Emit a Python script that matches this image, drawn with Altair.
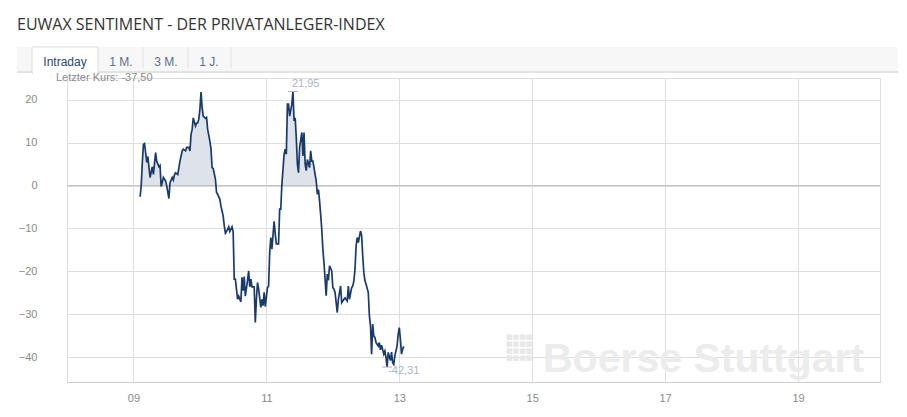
import altair as alt
import pandas as pd

# ---------------- data ----------------
times = [
    "09:06", "09:07", "09:08", "09:09", "09:10", "09:11", "09:12", "09:13", "09:14", "09:15",
    "09:17", "09:18", "09:20", "09:21", "09:23", "09:24", "09:25", "09:26", "09:27", "09:29",
    "09:30", "09:32", "09:33", "09:35", "09:36", "09:37", "09:38", "09:40", "09:42", "09:44",
    "09:45", "09:47", "09:48", "09:50", "09:51", "09:52", "09:53", "09:54", "09:56", "09:57",
    "09:58", "09:59", "10:00", "10:01", "10:02", "10:03", "10:05", "10:06", "10:07", "10:09",
    "10:10", "10:11", "10:12", "10:14", "10:15", "10:16", "10:18", "10:19", "10:21", "10:22",
    "10:23", "10:24", "10:26", "10:27", "10:29", "10:30", "10:31", "10:32", "10:34", "10:35",
    "10:37", "10:38", "10:39", "10:40", "10:41", "10:43", "10:44", "10:45", "10:46", "10:47",
    "10:49", "10:50", "10:51", "10:52", "10:53", "10:55", "10:56", "10:57", "10:58", "10:59",
    "11:01", "11:02", "11:03", "11:04", "11:05", "11:07", "11:08", "11:09", "11:11", "11:12",
    "11:13", "11:14", "11:16", "11:17", "11:18", "11:19", "11:20", "11:21", "11:23", "11:24",
    "11:25", "11:26", "11:27", "11:28", "11:29", "11:30", "11:32", "11:33", "11:34", "11:35",
    "11:36", "11:37", "11:39", "11:40", "11:41", "11:42", "11:43", "11:45", "11:46", "11:47",
    "11:48", "11:49", "11:50", "11:51", "11:52", "11:54", "11:55", "11:56", "11:57", "11:59",
    "12:00", "12:01", "12:02", "12:04", "12:05", "12:07", "12:08", "12:10", "12:11", "12:13",
    "12:14", "12:15", "12:17", "12:18", "12:19", "12:20", "12:21", "12:22", "12:23", "12:25",
    "12:26", "12:27", "12:28", "12:29", "12:30", "12:32", "12:33", "12:34", "12:35", "12:36",
    "12:37", "12:38", "12:39", "12:41", "12:42", "12:43", "12:44", "12:46", "12:47", "12:48",
    "12:49", "12:50", "12:52", "12:53", "12:54", "12:55", "12:56", "12:58", "12:59", "13:00",
    "13:01", "13:02", "13:03", "13:04",
]
values = [
    -2.6, 0.0, 5.4, 9.6, 9.8, 7.7, 5.4, 6.8, 4.2, 1.9,
    4.4, 2.6, 7.7, 5.7, 4.4, 4.7, -0.2, 0.7, 1.9, 1.1,
    0.0, -3.0, 0.7, 1.9, 1.3, 2.5, 3.0, 2.6, 5.7, 8.1,
    8.5, 8.1, 8.9, 8.9, 8.1, 12.0, 13.1, 15.8, 13.9, 14.6,
    14.6, 15.5, 17.8, 21.8, 18.2, 16.2, 15.7, 15.9, 13.1, 10.4,
    8.5, 4.2, 4.0, 1.5, -1.6, -2.0, -3.2, -4.8, -7.1, -9.4,
    -11.1, -10.7, -9.6, -10.7, -9.6, -10.7, -21.8, -21.8, -26.5, -25.8,
    -27.1, -21.4, -24.5, -21.2, -25.8, -22.1, -19.9, -23.6, -21.8, -23.6,
    -23.6, -31.9, -26.5, -22.6, -24.1, -28.4, -26.5, -28.0, -24.9, -28.2,
    -23.8, -23.4, -15.6, -12.1, -14.8, -8.3, -11.2, -13.6, -13.6, -5.5,
    -5.5, 0.3, 7.3, 8.5, 7.3, 19.0, 19.0, 16.2, 19.0, 21.95,
    15.1, 15.8, 11.2, 5.0, 3.0, 8.9, 12.4, 6.9, 12.4, 5.0,
    3.5, 6.1, 4.2, 8.1, 5.7, 5.7, 4.2, 1.1, -2.0, -0.9,
    -3.5, -6.7, -10.2, -14.8, -18.0, -25.7, -20.6, -22.1, -18.7, -19.9,
    -23.8, -24.1, -24.9, -29.6, -26.5, -23.4, -27.3, -26.5, -26.2, -26.9,
    -23.4, -26.5, -23.8, -23.4, -22.2, -19.5, -14.1, -12.1, -13.3, -10.6,
    -11.6, -16.4, -20.3, -22.2, -23.0, -24.9, -30.4, -32.7, -39.3, -32.3,
    -35.1, -35.4, -36.6, -37.4, -36.6, -38.3, -37.2, -39.3, -38.6, -40.1,
    -42.31, -38.9, -40.8, -38.8, -41.3, -41.7, -39.7, -37.4, -34.7, -33.1,
    -35.8, -39.3, -38.2, -37.5,
]

title_text = "EUWAX SENTIMENT - DER PRIVATANLEGER-INDEX"
tab_labels = ["Intraday", "1 M.", "3 M.", "1 J."]
last_label = "Letzter Kurs: -37,50"
watermark_text = "Boerse Stuttgart"
y_tick_values = [20, 10, 0, -10, -20, -30, -40]
x_tick_values = [9, 11, 13, 15, 17, 19]
x_domain = [8, 20 + 14 / 60]
y_domain = [-45.8, 25.1]

# ---------------- derived table ----------------
df = pd.DataFrame({"time": times, "value": values})
df["hour"] = df["time"].map(lambda t: int(t[:2]) + int(t[3:]) / 60)
df["pos"] = df["value"].clip(lower=0)

imax = int(df["value"].idxmax())
imin = int(df["value"].idxmin())
ext = pd.DataFrame({
    "hour": [df.loc[imax, "hour"], df.loc[imin, "hour"]],
    "value": [df.loc[imax, "value"], df.loc[imin, "value"]],
    "label": [f"{df.loc[imax, 'value']:.2f}".replace(".", ","),
              f"{df.loc[imin, 'value']:.2f}".replace(".", ",")],
})
ext_max = ext.iloc[[0]]
ext_min = ext.iloc[[1]]

# ---------------- layout / style ----------------
W, H = 813, 304
LABEL_FONT = "Liberation Sans"
GRID = "#dedede"
LINE = "#1a3a6c"
FILL = "#dee2e9"
ANNOT = "#a9b4c8"

xs = alt.Scale(domain=x_domain, nice=False, zero=False)
ys = alt.Scale(domain=y_domain, nice=False, zero=False)

x_axis = alt.Axis(values=x_tick_values,
                  labelExpr="datum.value < 10 ? '0' + datum.value : '' + datum.value",
                  grid=True, gridColor=GRID, ticks=False, domain=True,
                  domainColor="#cfcfcf", labelColor="#8a8a8a", labelFontSize=11,
                  labelFont=LABEL_FONT, labelPadding=10, title=None)
y_axis = alt.Axis(values=y_tick_values, grid=True, gridColor=GRID, ticks=False,
                  domain=False, labelColor="#8a8a8a", labelFontSize=11,
                  labelFont=LABEL_FONT, labelPadding=30, title=None)

X = alt.X("hour:Q", scale=xs, axis=x_axis)
Y = alt.Y("value:Q", scale=ys, axis=y_axis)

one = pd.DataFrame({"k": [0]})

area = alt.Chart(df).mark_area(color=FILL, opacity=1).encode(
    x=X, y=alt.Y("pos:Q", scale=ys, axis=y_axis), y2=alt.datum(0)
)
zero_rule = alt.Chart(one).mark_rule(color="#bdbdbd", strokeWidth=1).encode(
    y=alt.Y("k:Q", scale=ys, axis=y_axis)
)
line = alt.Chart(df).mark_line(color=LINE, strokeWidth=1.7, interpolate="linear").encode(
    x=X, y=Y
)
dash_max = alt.Chart(ext_max).mark_rule(color=ANNOT, strokeWidth=1, xOffset=-5, x2Offset=5).encode(
    x=X, x2="hour:Q", y=Y
)
dash_min = alt.Chart(ext_min).mark_rule(color=ANNOT, strokeWidth=1, xOffset=-5, x2Offset=5).encode(
    x=X, x2="hour:Q", y=Y
)
lab_max = alt.Chart(ext_max).mark_text(align="left", baseline="bottom", dx=-1, dy=-3,
                                       color=ANNOT, fontSize=11, font=LABEL_FONT).encode(
    x=X, y=Y, text="label:N"
)
lab_min = alt.Chart(ext_min).mark_text(align="left", baseline="top", dx=1, dy=-2,
                                       color=ANNOT, fontSize=11, font=LABEL_FONT).encode(
    x=X, y=Y, text="label:N"
)

# decorations (pixel positions relative to the plot area's top-left corner)
def rect(x1, x2, y1, y2, fill, stroke=None):
    kw = {"color": fill}
    if stroke:
        kw.update(stroke=stroke, strokeWidth=1)
    return alt.Chart(one).mark_rect(**kw).encode(
        x=alt.value(x1), x2=alt.value(x2), y=alt.value(y1), y2=alt.value(y2)
    )

def label(txt, x, y, size, color, align="left", baseline="middle", weight="normal", font=LABEL_FONT):
    return alt.Chart(one).mark_text(text=txt, align=align, baseline=baseline, fontSize=size,
                                    color=color, fontWeight=weight, font=font).encode(
        x=alt.value(x), y=alt.value(y)
    )

tab_bar = rect(-50, 831, -31, -6, "#f7f7f7")
tab_line = rect(-50, 831, -7, -5, "#e3e3e3")
tab_active = rect(-35, 31, -31, -5, "#ffffff", stroke="#dddddd")
tab_active_cover = rect(-34, 30, -8, -4, "#ffffff")
sep_x = [76, 121, 164]
seps = [alt.Chart(one).mark_rule(color="#e2e2e2").encode(
    x=alt.value(sx), y=alt.value(-31), y2=alt.value(-10)) for sx in sep_x]
tab_x = [-2, 54, 99, 142]
tab_colors = ["#2b4774", "#5d6f8e", "#5d6f8e", "#5d6f8e"]
tabs = [label(t, tx, -16, 12, c, align="center") for t, tx, c in zip(tab_labels, tab_x, tab_colors)]

title = label(title_text, -50, -48, 16, "#333333", baseline="alphabetic", font="Open Sans")
last = label(last_label, -11, 0, 11, "#8a8a8a")
wm = label(watermark_text, 476, 294, 41, "#ececec", baseline="alphabetic", weight="bold",
           font="Liberation Sans")
wm_dots = alt.Chart(one).mark_text(text=["■■■■", "■■■■", "■■■■", "■■■■"], align="left",
                                   baseline="top", fontSize=7, lineHeight=7,
                                   color="#e8e8e8", font="DejaVu Sans").encode(
    x=alt.value(439), y=alt.value(255)
)

chart = alt.layer(
    tab_bar, tab_line, tab_active, tab_active_cover, *seps, *tabs, title,
    wm_dots, wm,
    area, zero_rule, line, dash_max, dash_min, lab_max, lab_min, last,
).properties(
    width=W, height=H,
    padding={"left": 59, "top": 70, "right": 18, "bottom": 20},
    autosize=alt.AutoSizeParams(type="none"),
).configure_view(stroke=None).configure(background="#ffffff")

chart.save("out.html", embed_options={"renderer": "svg", "actions": False})
